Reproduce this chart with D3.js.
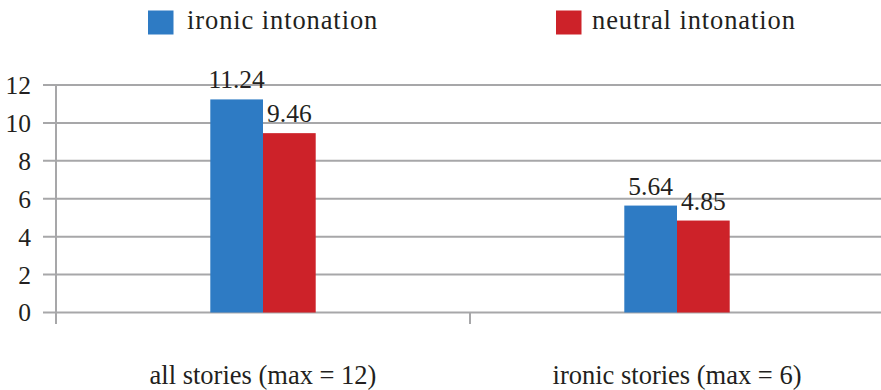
<!DOCTYPE html>
<html><head><meta charset="utf-8">
<script src="https://cdn.jsdelivr.net/npm/d3@7/dist/d3.min.js"></script>
<style>body{margin:0;background:#fff}svg{display:block}</style>
</head><body><svg id="c" width="881" height="390"></svg>
<script>
const categories = ["all stories (max = 12)", "ironic stories (max = 6)"];
const seriesNames = ["ironic intonation", "neutral intonation"];
const ironic = [11.24, 5.64];
const neutral = [9.46, 4.85];
const yTicks = [0, 2, 4, 6, 8, 10, 12];
const colors = ["#2e7bc4", "#cd2229"];
const txt = "#231f20";
const FONT = "Liberation Serif";

const svg = d3.select("#c");
const x0 = 56, x1 = 884, yTop = 85, yBot = 312.5;
const x = d3.scaleBand().domain(categories).range([x0, x1]);
const y = d3.scaleLinear().domain([0, 12]).range([yBot, yTop]);
const grid = "#a7a7a9";

// gridlines
svg.append("g").selectAll("line").data(yTicks).join("line")
  .attr("x1", 43).attr("x2", 881).attr("y1", d => y(d)).attr("y2", d => y(d))
  .attr("stroke", grid).attr("stroke-width", 2);
// y axis line
svg.append("line").attr("x1", x0).attr("x2", x0).attr("y1", yTop).attr("y2", 324)
  .attr("stroke", grid).attr("stroke-width", 2);
// category ticks
svg.append("g").selectAll("line").data(categories.slice(1)).join("line")
  .attr("x1", d => x(d)).attr("x2", d => x(d)).attr("y1", yBot).attr("y2", 324)
  .attr("stroke", grid).attr("stroke-width", 2);
// y labels
svg.append("g").selectAll("text").data(yTicks).join("text")
  .attr("x", 31).attr("y", d => y(d)).attr("dy", "0.35em").attr("fill", txt)
  .attr("text-anchor", "end").style("font-family", FONT).style("font-size", "25.5px").text(d => d);

const bw = 52.7;
const xs = d3.scaleBand().domain([0, 1]).range([-bw, bw]);
const data = categories.map((c, i) => ({c, vals: [ironic[i], neutral[i]]}));
const g = svg.append("g").selectAll("g").data(data).join("g")
  .attr("transform", d => `translate(${x(d.c) + x.bandwidth() / 2},0)`);
g.selectAll("rect").data(d => d.vals).join("rect")
  .attr("x", (d, j) => xs(j)).attr("width", xs.bandwidth())
  .attr("y", d => y(d)).attr("height", d => yBot - y(d))
  .attr("fill", (d, j) => colors[j]);
g.selectAll("text").data(d => d.vals).join("text")
  .attr("x", (d, j) => xs(j) + xs.bandwidth() / 2).attr("y", d => y(d) - 11)
  .attr("fill", txt).attr("text-anchor", "middle")
  .style("font-family", FONT).style("font-size", "25.5px").text(d => d.toFixed(2));

// category labels
svg.append("g").selectAll("text").data(categories).join("text")
  .attr("x", d => x(d) + x.bandwidth() / 2).attr("y", 384).attr("fill", txt)
  .attr("text-anchor", "middle").style("font-family", FONT).style("font-size", "26.5px").text(d => d);

// legend
const lx = [148, 556], tx = [187, 592];
const lg = svg.append("g").selectAll("g").data(seriesNames).join("g");
lg.append("rect").attr("x", (d, i) => lx[i]).attr("y", 10.5).attr("width", 25.5).attr("height", 24)
  .attr("fill", (d, i) => colors[i]);
lg.append("text").attr("x", (d, i) => tx[i]).attr("y", 29).attr("fill", txt)
  .style("font-family", FONT).style("font-size", "26.5px").style("letter-spacing", "0.9px").text(d => d);
</script></body></html>
